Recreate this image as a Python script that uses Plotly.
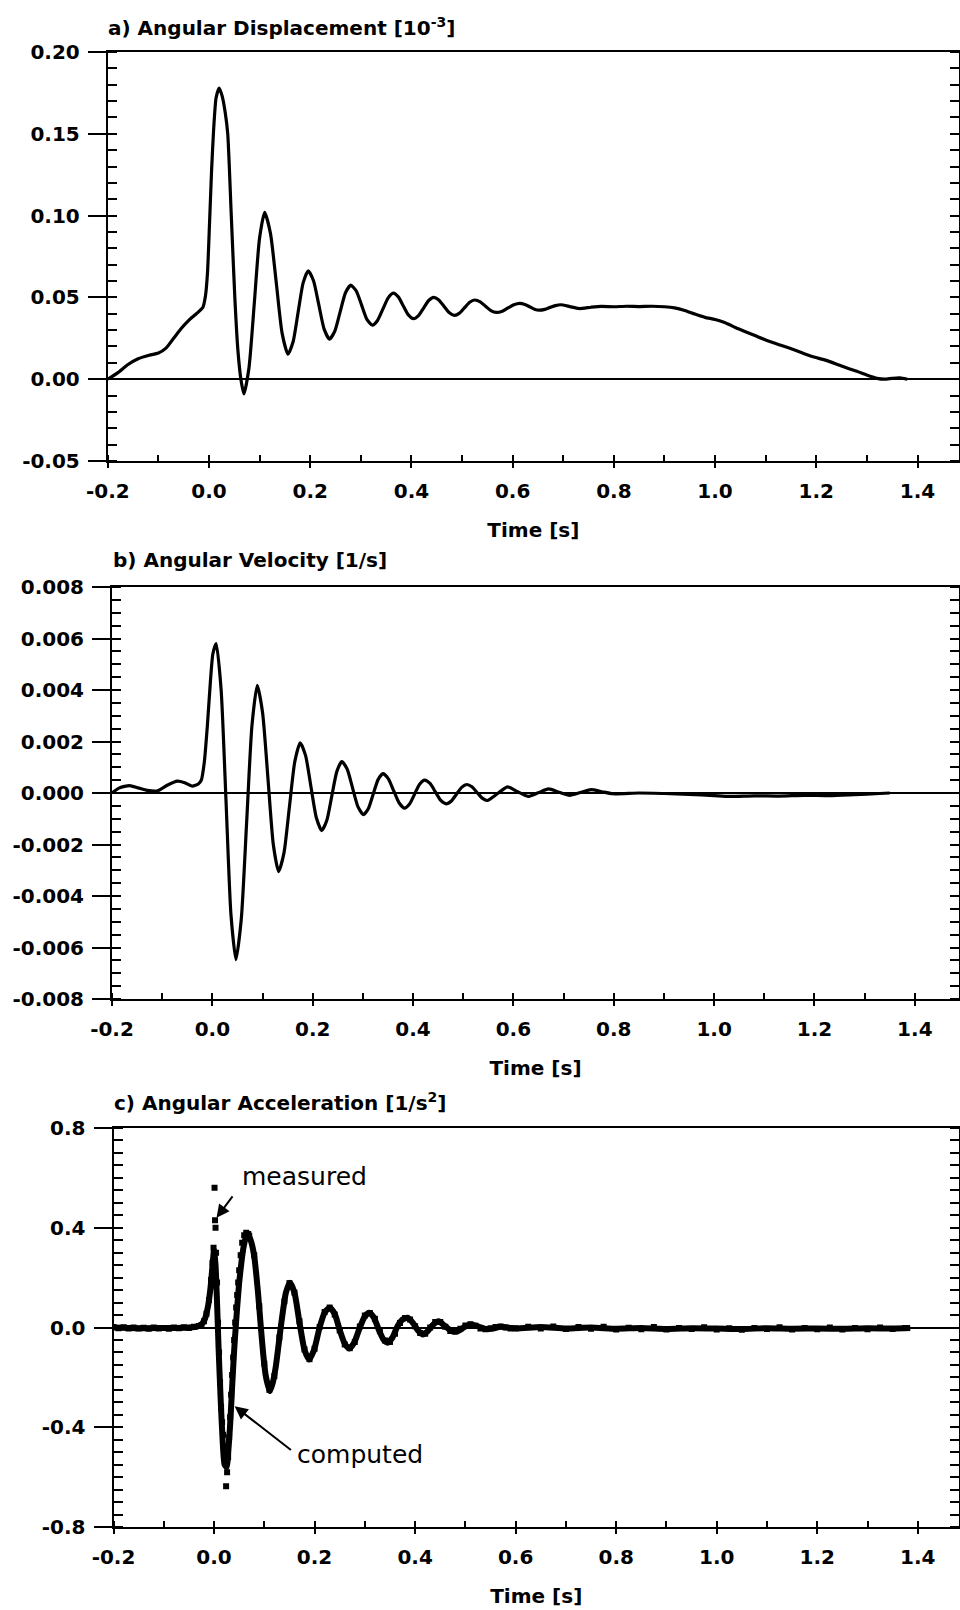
import plotly.graph_objects as go

# ---------------- data ----------------
# a) Angular displacement [1e-3]
time_a = [-0.200, -0.180, -0.160, -0.140, -0.120, -0.100, -0.085, -0.070, -0.055, -0.040,
          -0.025, -0.012, -0.007, -0.003, 0.001, 0.005, 0.009, 0.014, 0.020, 0.026,
          0.032, 0.037, 0.044, 0.051, 0.057, 0.063, 0.069, 0.079, 0.0895, 0.0998,
          0.110, 0.1215, 0.133, 0.1445, 0.156, 0.166, 0.176, 0.186, 0.196, 0.2065,
          0.217, 0.2275, 0.238, 0.2485, 0.259, 0.2695, 0.280, 0.291, 0.3015, 0.312,
          0.323, 0.333, 0.3435, 0.354, 0.364, 0.374, 0.384, 0.394, 0.404, 0.414,
          0.424, 0.434, 0.444, 0.454, 0.4645, 0.475, 0.485, 0.495, 0.505, 0.515,
          0.525, 0.536, 0.5465, 0.557, 0.568, 0.5795, 0.591, 0.6025, 0.614, 0.624,
          0.6335, 0.643, 0.653, 0.6635, 0.674, 0.6845, 0.695, 0.713, 0.731, 0.755,
          0.775, 0.800, 0.825, 0.850, 0.875, 0.900, 0.920, 0.940, 0.960, 0.980,
          1.000, 1.020, 1.040, 1.060, 1.080, 1.100, 1.130, 1.160, 1.190, 1.220,
          1.250, 1.280, 1.300, 1.320, 1.335, 1.350, 1.365, 1.380]
disp_a = [0.000, 0.004, 0.009, 0.0125, 0.0145, 0.016, 0.019, 0.025, 0.031, 0.036,
          0.040, 0.044, 0.051, 0.065, 0.095, 0.127, 0.152, 0.172, 0.178, 0.173,
          0.163, 0.150, 0.100, 0.050, 0.018, 0.000, -0.009, 0.007, 0.0465, 0.086,
          0.102, 0.089, 0.0587, 0.028, 0.0153, 0.0227, 0.0408, 0.0589, 0.0663, 0.0602,
          0.0454, 0.0306, 0.0245, 0.0293, 0.041, 0.0527, 0.0575, 0.0539, 0.0453, 0.0366,
          0.033, 0.0359, 0.0428, 0.0497, 0.0526, 0.0503, 0.0448, 0.0393, 0.037, 0.0389,
          0.0435, 0.0481, 0.050, 0.0484, 0.0445, 0.0406, 0.039, 0.0404, 0.0437, 0.047,
          0.0484, 0.0473, 0.0446, 0.0419, 0.0408, 0.0416, 0.0436, 0.0455, 0.0463, 0.0457,
          0.0443, 0.0428, 0.0422, 0.0427, 0.0439, 0.045, 0.0455, 0.0444, 0.0432, 0.044,
          0.0445, 0.0443, 0.0446, 0.0444, 0.0446, 0.0443, 0.0436, 0.042, 0.0398, 0.0378,
          0.0365, 0.0345, 0.0316, 0.029, 0.0265, 0.024, 0.0208, 0.0175, 0.014, 0.0115,
          0.008, 0.0048, 0.0025, 0.0005, 0.000, 0.0005, 0.0008, 0.000]

# b) Angular velocity [1/s]
time_b = [-0.200, -0.185, -0.165, -0.148, -0.130, -0.110, -0.090, -0.070, -0.055, -0.040,
          -0.028, -0.022, -0.016, -0.010, -0.004, 0.001, 0.0076, 0.0175, 0.0273, 0.037,
          0.047, 0.0576, 0.0683, 0.0789, 0.0895, 0.1001, 0.1108, 0.1214, 0.132, 0.1428,
          0.1535, 0.1643, 0.175, 0.1858, 0.1965, 0.2073, 0.218, 0.228, 0.238, 0.248,
          0.258, 0.2688, 0.2795, 0.2903, 0.301, 0.3108, 0.3205, 0.3303, 0.340, 0.3508,
          0.3615, 0.3723, 0.383, 0.393, 0.403, 0.413, 0.423, 0.4338, 0.4445, 0.4553,
          0.466, 0.4763, 0.4865, 0.4968, 0.507, 0.5173, 0.5275, 0.5378, 0.548, 0.568,
          0.588, 0.6085, 0.629, 0.6495, 0.670, 0.691, 0.712, 0.7335, 0.755, 0.776,
          0.798, 0.850, 0.900, 0.950, 1.000, 1.030, 1.080, 1.130, 1.180, 1.230,
          1.280, 1.330, 1.350]
vel_b = [0.0, 0.0002, 0.00029, 0.0002, 0.0001, 0.00008, 0.0003, 0.00046, 0.0004, 0.00027,
         0.00035, 0.0005, 0.0012, 0.0026, 0.0043, 0.0054, 0.0058, 0.0040, -0.00034, -0.0047,
         -0.00647, -0.00491, -0.00115, 0.00262, 0.00418, 0.00312, 0.00057, -0.00199, -0.00305, -0.00232,
         -0.00055, 0.00122, 0.00195, 0.00145, 0.000245, -0.00096, -0.00146, -0.00107, -0.00012, 0.00083,
         0.00122, 0.00092, 0.00019, -0.00054, -0.00084, -0.00061, -0.000045, 0.00052, 0.00075, 0.00055,
         0.00008, -0.00039, -0.00059, -0.00043, -0.000045, 0.00034, 0.0005, 0.00037, 0.00004, -0.00029,
         -0.00042, -0.00031, -0.000045, 0.00022, 0.00033, 0.00024, 0.00002, -0.0002, -0.00029, -0.00003,
         0.00024, 0.00005, -0.00013, 0.00001, 0.00016, 0.00003, -0.00009, 0.00002, 0.00013, 0.00005,
         -0.00003, 0.0, -0.00002, -0.00005, -0.0001, -0.00013, -0.00011, -0.00012, -0.00009, -0.0001,
         -0.00006, -0.00002, 0.0]

# c) Angular acceleration [1/s^2] - computed
time_c_comp = [-0.200, -0.150, -0.100, -0.060, -0.035, -0.025, -0.018, -0.012, -0.007, -0.003,
               0.000, 0.003, 0.006, 0.009, 0.013, 0.017, 0.021, 0.025, 0.029, 0.033,
               0.037, 0.041, 0.046, 0.050, 0.055, 0.059, 0.066, 0.073, 0.080, 0.087,
               0.093, 0.098, 0.103, 0.111, 0.117, 0.123, 0.133, 0.143, 0.151, 0.160,
               0.170, 0.180, 0.189, 0.199, 0.210, 0.220, 0.230, 0.240, 0.250, 0.260,
               0.269, 0.279, 0.290, 0.300, 0.309, 0.318, 0.328, 0.337, 0.345, 0.355,
               0.365, 0.375, 0.385, 0.395, 0.405, 0.415, 0.425, 0.435, 0.447, 0.460,
               0.473, 0.485, 0.498, 0.511, 0.525, 0.540, 0.555, 0.570, 0.600, 0.650,
               0.700, 0.750, 0.800, 0.850, 0.900, 0.950, 1.000, 1.050, 1.100, 1.150,
               1.200, 1.250, 1.300, 1.350, 1.385]
acc_c_comp = [0.000, -0.003, -0.002, -0.001, 0.003, 0.012, 0.035, 0.085, 0.160, 0.250,
              0.310, 0.250, 0.100, -0.080, -0.280, -0.450, -0.550, -0.560, -0.480, -0.355,
              -0.200, -0.060, 0.080, 0.179, 0.270, 0.325, 0.379, 0.350, 0.285, 0.150,
              0.005, -0.110, -0.195, -0.255, -0.220, -0.155, 0.005, 0.140, 0.179, 0.140,
              0.020, -0.090, -0.128, -0.090, 0.000, 0.060, 0.079, 0.055, -0.010, -0.065,
              -0.084, -0.060, 0.000, 0.045, 0.059, 0.040, -0.010, -0.048, -0.061, -0.040,
              0.005, 0.032, 0.039, 0.020, -0.010, -0.028, -0.015, 0.010, 0.025, 0.005,
              -0.015, -0.015, 0.002, 0.012, 0.005, -0.006, -0.004, 0.003, -0.004, 0.002,
              -0.004, 0.000, -0.005, -0.002, -0.006, -0.003, -0.004, -0.006, -0.003, -0.005,
              -0.004, -0.005, -0.003, -0.004, -0.002]

# c) Angular acceleration [1/s^2] - measured
time_c_meas = [-0.200, -0.190, -0.180, -0.170, -0.160, -0.150, -0.140, -0.130, -0.120, -0.110,
               -0.100, -0.090, -0.080, -0.070, -0.060, -0.050, -0.040, -0.030, -0.025, -0.020,
               -0.015, -0.010, -0.006, -0.003, -0.001, 0.001, 0.002, 0.003, 0.004, 0.006,
               0.008, 0.010, 0.012, 0.014, 0.016, 0.018, 0.020, 0.022, 0.024, 0.026,
               0.028, 0.030, 0.032, 0.034, 0.036, 0.038, 0.040, 0.042, 0.044, 0.046,
               0.048, 0.050, 0.053, 0.056, 0.060, 0.064, 0.068, 0.070, 0.080, 0.090,
               0.100, 0.110, 0.120, 0.130, 0.140, 0.150, 0.160, 0.170, 0.180, 0.190,
               0.200, 0.210, 0.220, 0.230, 0.240, 0.250, 0.260, 0.270, 0.280, 0.290,
               0.300, 0.310, 0.320, 0.330, 0.340, 0.350, 0.360, 0.370, 0.380, 0.390,
               0.400, 0.410, 0.420, 0.430, 0.440, 0.450, 0.460, 0.470, 0.480, 0.490,
               0.500, 0.510, 0.520, 0.530, 0.540, 0.550, 0.560, 0.570, 0.580, 0.590,
               0.600, 0.625, 0.650, 0.675, 0.700, 0.725, 0.750, 0.775, 0.800, 0.825,
               0.850, 0.875, 0.900, 0.925, 0.950, 0.975, 1.000, 1.025, 1.050, 1.075,
               1.100, 1.125, 1.150, 1.175, 1.200, 1.225, 1.250, 1.275, 1.300, 1.325,
               1.350, 1.375]
acc_c_meas = [0.002, -0.003, 0.001, -0.004, 0.000, -0.004, -0.001, -0.005, 0.000, -0.004,
              -0.002, -0.005, 0.000, -0.003, 0.001, -0.002, 0.003, 0.006, 0.010, 0.025,
              0.055, 0.110, 0.190, 0.260, 0.320, 0.560, 0.430, 0.400, 0.300, 0.180,
              0.020, -0.100, -0.220, -0.320, -0.380, -0.430, -0.500, -0.540, -0.637, -0.580,
              -0.520, -0.440, -0.360, -0.270, -0.190, -0.120, -0.050, 0.020, 0.080, 0.130,
              0.180, 0.230, 0.290, 0.340, 0.370, 0.380, 0.375, 0.368, 0.290, 0.085,
              -0.145, -0.250, -0.195, -0.040, 0.105, 0.178, 0.140, 0.025, -0.088, -0.127,
              -0.085, 0.002, 0.062, 0.080, 0.052, -0.012, -0.068, -0.083, -0.058, 0.004,
              0.048, 0.058, 0.035, -0.015, -0.052, -0.058, -0.025, 0.018, 0.038, 0.032,
              0.005, -0.022, -0.025, 0.000, 0.022, 0.022, 0.003, -0.014, -0.016, -0.005,
              0.008, 0.013, 0.007, -0.004, -0.007, -0.003, 0.002, 0.004, 0.000, -0.004,
              -0.003, 0.003, -0.004, 0.004, -0.006, 0.002, -0.005, 0.003, -0.008, -0.001,
              -0.007, 0.002, -0.008, -0.002, -0.006, 0.001, -0.008, -0.003, -0.009, -0.002,
              -0.006, 0.001, -0.008, -0.002, -0.007, 0.000, -0.008, -0.002, -0.007, 0.000,
              -0.006, -0.002]

titles = ["a) Angular Displacement [10<sup>-3</sup>]",
          "b) Angular Velocity [1/s]",
          "c) Angular Acceleration [1/s<sup>2</sup>]"]
xlabel = "Time [s]"
x_ticks = [-0.2, 0.0, 0.2, 0.4, 0.6, 0.8, 1.0, 1.2, 1.4]
x_ticktext = ["-0.2", "0.0", "0.2", "0.4", "0.6", "0.8", "1.0", "1.2", "1.4"]
y_tickvals = [[-0.05, 0.0, 0.05, 0.10, 0.15, 0.20],
              [-0.008, -0.006, -0.004, -0.002, 0.0, 0.002, 0.004, 0.006, 0.008],
              [-0.8, -0.4, 0.0, 0.4, 0.8]]
y_ticktext = [["-0.05", "0.00", "0.05", "0.10", "0.15", "0.20"],
              ["-0.008", "-0.006", "-0.004", "-0.002", "0.000", "0.002", "0.004", "0.006", "0.008"],
              ["-0.8", "-0.4", "0.0", "0.4", "0.8"]]
y_ranges = [(-0.05, 0.20), (-0.008, 0.008), (-0.8, 0.8)]
y_minor = [0.01, 0.0005, 0.05]
annot_labels = ["measured", "computed"]

# ---------------- layout geometry (pixels of a 960 x 1610 page) ----------------
W, H = 960, 1610
panels = [
    dict(left=107.8, top=52, bottom=461, xmax=1.482, title_x=106, title_y=27),
    dict(left=112.0, top=587, bottom=999, xmax=1.488, title_x=111, title_y=560),
    dict(left=113.5, top=1128, bottom=1527, xmax=1.482, title_x=112, title_y=1102),
]
RIGHT = 959.0

BLACK = "black"
tickfont = dict(family="DejaVu Sans", size=20, color=BLACK, weight="bold")

fig = go.Figure()

fig.add_trace(go.Scatter(x=time_a, y=disp_a, mode="lines", line=dict(color=BLACK, width=3.2, shape="spline", smoothing=0.6),
                         xaxis="x", yaxis="y", showlegend=False, hoverinfo="skip"))
fig.add_trace(go.Scatter(x=time_b, y=vel_b, mode="lines", line=dict(color=BLACK, width=3.2, shape="spline", smoothing=0.6),
                         xaxis="x2", yaxis="y2", showlegend=False, hoverinfo="skip"))
fig.add_trace(go.Scatter(x=time_c_comp, y=acc_c_comp, mode="lines", name="computed",
                         line=dict(color=BLACK, width=6, shape="spline", smoothing=0.6),
                         xaxis="x3", yaxis="y3", showlegend=False, hoverinfo="skip"))
fig.add_trace(go.Scatter(x=time_c_meas, y=acc_c_meas, mode="markers", name="measured",
                         marker=dict(symbol="square", size=6, color=BLACK),
                         xaxis="x3", yaxis="y3", showlegend=False, hoverinfo="skip"))

layout = dict(width=W, height=H, margin=dict(l=0, r=0, t=0, b=0, autoexpand=False),
              template="none",
              paper_bgcolor="white", plot_bgcolor="white", showlegend=False)

annotations = []
for i, p in enumerate(panels):
    n = "" if i == 0 else str(i + 1)
    xdom = [p["left"] / W, RIGHT / W]
    ydom = [1 - p["bottom"] / H, 1 - p["top"] / H]
    layout["xaxis" + n] = dict(
        domain=xdom, anchor="y" + n, range=[-0.2, p["xmax"]], automargin=False,
        tickmode="array", tickvals=x_ticks, ticktext=x_ticktext,
        ticks="outside", ticklen=5, tickwidth=2, tickcolor=BLACK,
        minor=dict(dtick=0.1, tick0=0, ticks="inside", ticklen=6, tickwidth=1.5, tickcolor=BLACK),
        showline=True, linecolor=BLACK, linewidth=2, mirror=True,
        showgrid=False, zeroline=False, tickfont=tickfont, ticklabelstandoff=6,
        title=dict(text=xlabel, font=dict(family="DejaVu Sans", size=20, color=BLACK, weight="bold"), standoff=21),
    )
    layout["yaxis" + n] = dict(
        domain=ydom, anchor="x" + n, range=list(y_ranges[i]), automargin=False,
        tickmode="array", tickvals=y_tickvals[i], ticktext=y_ticktext[i],
        ticks="outside", ticklen=18, tickwidth=1.5, tickcolor=BLACK,
        minor=dict(dtick=y_minor[i], tick0=0, ticks="inside", ticklen=9, tickwidth=1.5, tickcolor=BLACK),
        showline=True, linecolor=BLACK, linewidth=2, mirror="ticks",
        showgrid=False, zeroline=True, zerolinecolor=BLACK, zerolinewidth=2,
        tickfont=tickfont, ticklabelstandoff=4,
    )
    layout["yaxis" + str(i + 4)] = dict(
        overlaying="y" + n, anchor="x" + n, side="right", range=list(y_ranges[i]), automargin=False,
        tickmode="array", tickvals=y_tickvals[i], ticks="inside", ticklen=10, tickwidth=1.5, tickcolor=BLACK,
        mirror="ticks", showline=False, showgrid=False, zeroline=False, showticklabels=False,
    )
    annotations.append(dict(text=titles[i], xref="paper", yref="paper",
                            x=p["title_x"] / W, y=1 - p["title_y"] / H,
                            xanchor="left", yanchor="middle", showarrow=False,
                            font=dict(family="DejaVu Sans", size=20, color=BLACK, weight="bold")))

annot_font = dict(family="DejaVu Sans", size=25, color=BLACK)
annotations += [
    dict(text=annot_labels[0], xref="x3", yref="y3", x=0.18, y=0.604, showarrow=False,
         xanchor="center", yanchor="middle", font=annot_font),
    dict(text="", xref="x3", yref="y3", x=0.005, y=0.44, axref="x3", ayref="y3",
         ax=0.039, ay=0.532, showarrow=True, arrowhead=2, arrowsize=1.3, arrowwidth=2, arrowcolor=BLACK),
    dict(text=annot_labels[1], xref="x3", yref="y3", x=0.29, y=-0.508, showarrow=False,
         xanchor="center", yanchor="middle", font=annot_font),
    dict(text="", xref="x3", yref="y3", x=0.041, y=-0.316, axref="x3", ayref="y3",
         ax=0.156, ay=-0.496, showarrow=True, arrowhead=2, arrowsize=1.3, arrowwidth=2, arrowcolor=BLACK),
]
layout["annotations"] = annotations
fig.update_layout(**layout)

fig.write_html("out.html")
